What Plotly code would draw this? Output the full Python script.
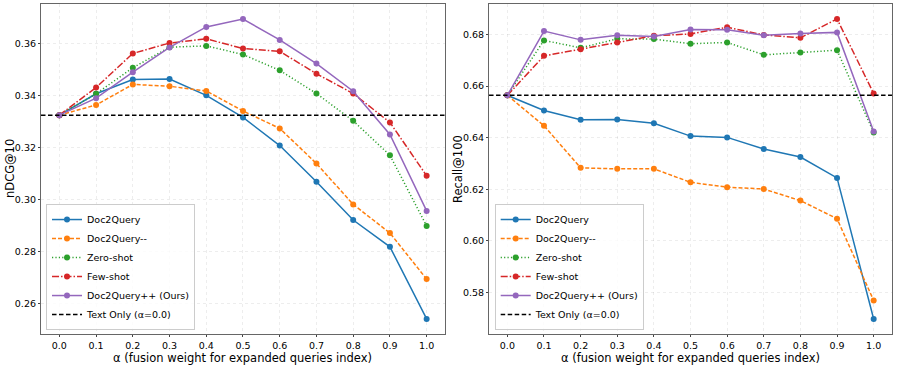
import plotly.graph_objects as go

alpha = [0.0, 0.1, 0.2, 0.3, 0.4, 0.5, 0.6, 0.7, 0.8, 0.9, 1.0]

# nDCG@10
ndcg_doc2query = [0.3325, 0.3407, 0.3462, 0.3464, 0.3401, 0.3316, 0.3208, 0.3069, 0.2922, 0.2819, 0.2542]
ndcg_doc2query_minus = [0.3325, 0.3364, 0.3443, 0.3436, 0.3418, 0.3341, 0.3274, 0.3139, 0.2982, 0.2872, 0.2695]
ndcg_zero_shot = [0.3325, 0.3407, 0.3507, 0.3586, 0.3591, 0.3558, 0.3497, 0.3408, 0.3303, 0.3171, 0.2899]
ndcg_few_shot = [0.3325, 0.3431, 0.3562, 0.3602, 0.3618, 0.3581, 0.3570, 0.3484, 0.3408, 0.3297, 0.3092]
ndcg_ours = [0.3325, 0.3390, 0.3490, 0.3585, 0.3664, 0.3694, 0.3614, 0.3523, 0.3417, 0.3251, 0.2957]

# Recall@100
recall_doc2query = [0.6564, 0.6505, 0.6469, 0.6470, 0.6456, 0.6406, 0.6401, 0.6356, 0.6325, 0.6244, 0.5697]
recall_doc2query_minus = [0.6564, 0.6446, 0.6283, 0.6279, 0.6279, 0.6227, 0.6208, 0.6201, 0.6156, 0.6086, 0.5769]
recall_zero_shot = [0.6564, 0.6777, 0.6748, 0.6783, 0.6782, 0.6764, 0.6769, 0.6721, 0.6730, 0.6739, 0.6420]
recall_few_shot = [0.6564, 0.6717, 0.6743, 0.6769, 0.6795, 0.6802, 0.6828, 0.6798, 0.6787, 0.6860, 0.6571]
recall_ours = [0.6564, 0.6813, 0.6779, 0.6797, 0.6792, 0.6819, 0.6818, 0.6797, 0.6804, 0.6808, 0.6424]

series_names = ["Doc2Query", "Doc2Query--", "Zero-shot", "Few-shot", "Doc2Query++ (Ours)"]
baseline_name = "Text Only (α=0.0)"
colors = ["#1f77b4", "#ff7f0e", "#2ca02c", "#d62728", "#9467bd"]
# matplotlib-like line styles: solid, dashed, dotted, dashdot, solid
dashes = ["solid", "4px,2px", "1.2px,2.2px", "7px,2px,1.5px,2px", "solid"]

FONT = "DejaVu Sans"
x_tick_labels = [f"{a:.1f}" for a in alpha]
ndcg_ticks = [0.26, 0.28, 0.30, 0.32, 0.34, 0.36]
recall_ticks = [0.58, 0.60, 0.62, 0.64, 0.66, 0.68]

fig = go.Figure()

panels = [
    ("x", "y", "legend", [ndcg_doc2query, ndcg_doc2query_minus, ndcg_zero_shot, ndcg_few_shot, ndcg_ours]),
    ("x2", "y2", "legend2", [recall_doc2query, recall_doc2query_minus, recall_zero_shot, recall_few_shot, recall_ours]),
]

for xa, ya, leg, data in panels:
    for name, vals, c, d in zip(series_names, data, colors, dashes):
        fig.add_trace(go.Scatter(
            x=alpha, y=vals, name=name, mode="lines+markers",
            line=dict(color=c, width=1.5, dash=d),
            marker=dict(color=c, size=6),
            xaxis=xa, yaxis=ya, legend=leg,
        ))
    # legend entry for the text-only baseline
    fig.add_trace(go.Scatter(
        x=[None], y=[None], name=baseline_name, mode="lines",
        line=dict(color="black", width=1.5, dash="4.5px,2.5px"),
        xaxis=xa, yaxis=ya, legend=leg,
    ))
    fig.add_shape(type="line", xref=xa + " domain", yref=ya, x0=0, x1=1,
                  y0=data[0][0], y1=data[0][0],
                  line=dict(color="black", width=1.5, dash="4.5px,2.5px"))

axis_common = dict(
    showline=True, mirror=True, linecolor="#666666", linewidth=1.2,
    showgrid=True, gridcolor="rgba(0,0,0,0.07)", griddash="dot", gridwidth=1,
    ticks="outside", ticklen=2, tickcolor="#444444",
    tickfont=dict(family=FONT, size=9.5, color="black"),
    zeroline=False, automargin=False,
)

xtitle = "α (fusion weight for expanded queries index)"

fig.update_layout(
    width=897, height=365,
    margin=dict(l=0, r=0, t=4, b=31),
    plot_bgcolor="white", paper_bgcolor="white",
    font=dict(family=FONT, size=9.5, color="black"),
    xaxis=dict(domain=[0.0457, 0.4961], range=[-0.05, 1.05], tickvals=alpha, ticktext=x_tick_labels,
               **axis_common),
    yaxis=dict(domain=[0, 1], range=[0.2484, 0.3752], tickvals=ndcg_ticks, tickformat=".2f",
               anchor="x", **axis_common),
    xaxis2=dict(domain=[0.5452, 0.9944], range=[-0.05, 1.05], tickvals=alpha, ticktext=x_tick_labels,
                anchor="y2", **axis_common),
    yaxis2=dict(domain=[0, 1], range=[0.5639, 0.6918], tickvals=recall_ticks, tickformat=".2f",
                anchor="x2", **axis_common),
    legend=dict(x=0.0513, y=0.012, xanchor="left", yanchor="bottom",
                bgcolor="rgba(255,255,255,0.8)", bordercolor="#cccccc", borderwidth=1,
                font=dict(family=FONT, size=9.5), tracegroupgap=0, itemwidth=30),
    legend2=dict(x=0.5515, y=0.012, xanchor="left", yanchor="bottom",
                 bgcolor="rgba(255,255,255,0.8)", bordercolor="#cccccc", borderwidth=1,
                 font=dict(family=FONT, size=9.5), tracegroupgap=0, itemwidth=30),
)

# axis titles
title_font = dict(family=FONT, size=11.5, color="black")
for xc in [(0.0457 + 0.4961) / 2, (0.5452 + 0.9944) / 2]:
    fig.add_annotation(text=xtitle, xref="paper", yref="paper", x=xc, y=-0.0955,
                       xanchor="center", yanchor="bottom", showarrow=False, font=title_font,
                       borderpad=0)
for xp, t in [(10 / 897, "nDCG@10"), (458 / 897, "Recall@100")]:
    fig.add_annotation(text=t, xref="paper", yref="paper", x=xp, y=0.5, textangle=-90,
                       xanchor="center", yanchor="middle", showarrow=False, font=title_font)

# remove the browser's default body margin so the figure sits at the window's corner
fig.write_html("out.html", config={"displayModeBar": False},
               post_script="document.body.style.margin='0px';")
